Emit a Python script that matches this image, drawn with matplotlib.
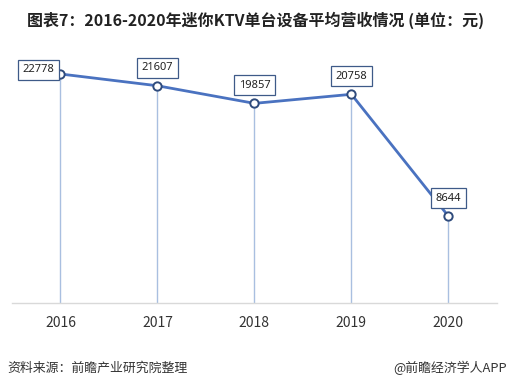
import matplotlib
matplotlib.use('Agg')
import matplotlib.pyplot as plt

plt.rcParams['font.family'] = ['Noto Sans CJK SC', 'DejaVu Sans']

years = ['2016', '2017', '2018', '2019', '2020']
revenue = [22778, 21607, 19857, 20758, 8644]

# label offsets in points (dx, dy) relative to each point
offsets = [(-16, 3), (0, 13), (0, 13), (0, 13), (0, 13)]

fig = plt.figure(figsize=(5.12, 3.91), dpi=100)
ax = fig.add_axes([0.0234, 0.225, 0.947, 0.673])

x = list(range(len(years)))
ax.vlines(x, 0, revenue, color='#a9bfe0', linewidth=1.0, zorder=1)
ax.plot(x, revenue, color='#4a72c0', linewidth=2.0, zorder=2)
ax.plot(x, revenue, 'o', markersize=6, markerfacecolor='white',
        markeredgecolor='#2f4b7c', markeredgewidth=1.4, zorder=3)

for xi, v, (dx, dy) in zip(x, revenue, offsets):
    ax.annotate(str(v), (xi, v), xytext=(dx, dy), textcoords='offset points',
                ha='center', va='center', fontsize=8, color='#222222',
                family='Noto Sans',
                bbox=dict(boxstyle='square,pad=0.4', facecolor='white',
                          edgecolor='#3e5a88', linewidth=0.9),
                zorder=4)

ax.set_xlim(-0.5, 4.5)
ax.set_ylim(0, 26170)
ax.set_xticks(x)
ax.set_xticklabels(years, fontsize=10, color='#333333')
ax.set_yticks([])
ax.tick_params(axis='x', length=0, pad=9)
for side in ['top', 'right', 'left']:
    ax.spines[side].set_visible(False)
ax.spines['bottom'].set_color('#d9d9d9')
ax.spines['bottom'].set_linewidth(1.0)

fig.text(0.5, 0.948, '图表7：2016-2020年迷你KTV单台设备平均营收情况 (单位：元)',
         ha='center', va='center', fontsize=11.5, fontweight='bold', color='#222222')
fig.text(0.014, 0.059, '资料来源：前瞻产业研究院整理',
         ha='left', va='center', fontsize=9.3, color='#333333')
fig.text(0.768, 0.059, '@前瞻经济学人APP',
         ha='left', va='center', fontsize=9.3, color='#333333')

fig.savefig('out.png', dpi=100)
